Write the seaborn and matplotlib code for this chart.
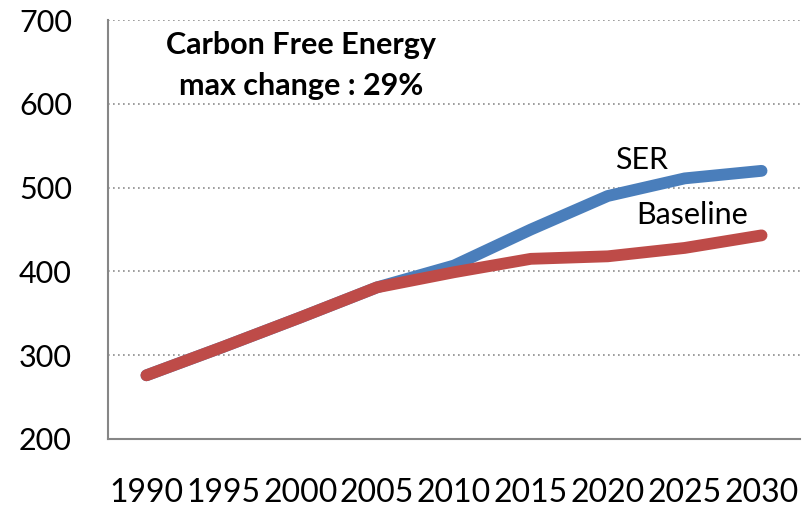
import numpy as np
import pandas as pd
import matplotlib
matplotlib.use("Agg")
import matplotlib.pyplot as plt
import seaborn as sns

years = ["1990", "1995", "2000", "2005", "2010", "2015", "2020", "2025", "2030"]
baseline = [276, 310, 345, 381, 399, 415, 418, 428, 443]
ser = [276, 310, 345, 381, 407, 450, 490, 511, 520]

df = pd.DataFrame({
    "pos": list(range(len(years))) * 2,
    "value": ser + baseline,
    "scenario": ["SER"] * len(years) + ["Baseline"] * len(years),
})

sns.set_style("white")
plt.rcParams["font.family"] = ["Lato", "DejaVu Sans"]
plt.rcParams["text.color"] = "black"
plt.rcParams["xtick.labelcolor"] = "black"
plt.rcParams["ytick.labelcolor"] = "black"

fig = plt.figure(figsize=(8.09, 5.14), dpi=100)
ax = fig.add_axes([108 / 809, 1 - 439 / 514, 692 / 809, 419 / 514])

palette = {"SER": "#4A7EBB", "Baseline": "#BE4B48"}
sns.lineplot(data=df, x="pos", y="value", hue="scenario", palette=palette,
             linewidth=8.5, legend=False, ax=ax)
for line in ax.get_lines():
    line.set_solid_capstyle("round")
    line.set_solid_joinstyle("round")

ax.set_xlim(-0.5, len(years) - 0.5)
ax.set_ylim(200, 700)
ax.set_yticks([200, 300, 400, 500, 600, 700])
ax.set_xticks(np.arange(-0.5, len(years), 1.0))
ax.set_xticklabels([])
ax.set_xticks(range(len(years)), minor=True)
ax.set_xticklabels(years, minor=True)
ax.tick_params(axis="x", which="minor", length=0, pad=28, labelsize=23)
ax.tick_params(axis="x", which="major", length=6, width=1.5, color="#868686", direction="out")
ax.tick_params(axis="y", length=6, width=1.5, color="#868686", direction="out", pad=20, labelsize=22)
ax.set_xlabel("")
ax.set_ylabel("")

for y in [300, 400, 500, 600, 700]:
    ax.axhline(y, color="#8C8C8C", linestyle=(0, (1, 2)), linewidth=1.2, zorder=0)

for side in ["top", "right"]:
    ax.spines[side].set_visible(False)
for side in ["left", "bottom"]:
    ax.spines[side].set_color("#868686")
    ax.spines[side].set_linewidth(1.5)

ax.text(2.01, 670, "Carbon Free Energy", ha="center", va="center",
        fontsize=22, fontweight="bold")
ax.text(2.01, 621, "max change : 29%", ha="center", va="center",
        fontsize=22, fontweight="bold")
ax.text(6.44, 533, "SER", ha="center", va="center", fontsize=22)
ax.text(7.1, 467, "Baseline", ha="center", va="center", fontsize=22)

fig.savefig("out.png", dpi=100)
